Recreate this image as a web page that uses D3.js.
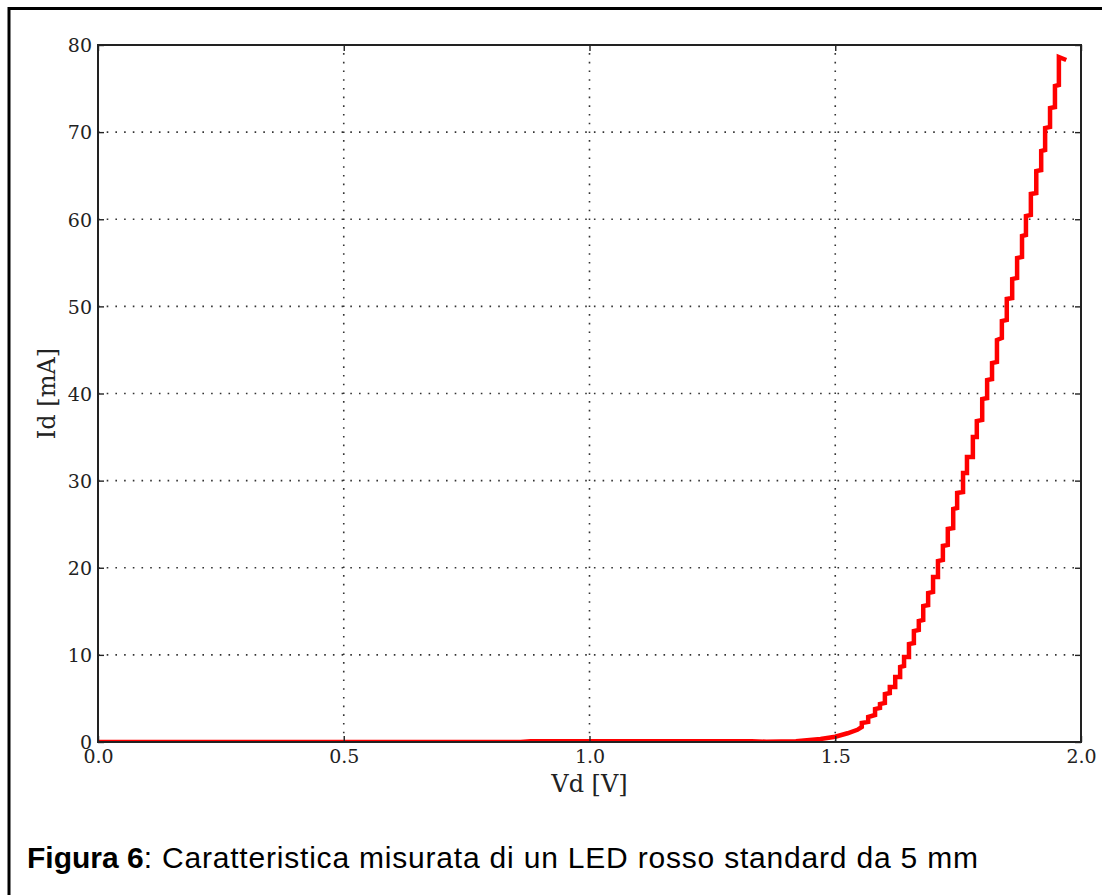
<!DOCTYPE html>
<html>
<head>
<meta charset="utf-8">
<script src="https://cdn.jsdelivr.net/npm/d3@7"></script>
<style>
    body { margin: 0; background: #fff; }
</style>
</head>
<body>
<div id="led_chart"></div>
<script>
// Axis ticks
const xTicks = [0.0, 0.5, 1.0, 1.5, 2.0];
const yTicks = [0, 10, 20, 30, 40, 50, 60, 70, 80];

// Almost flat part of the curve, below the knee
const lowVd = [0.0, 0.86, 0.88, 1.33, 1.36, 1.42, 1.47, 1.5, 1.525, 1.545];
const lowId = [0.0, 0.0, 0.1, 0.1, 0.03, 0.1, 0.35, 0.6, 1.0, 1.4];

// Quantized voltage levels: at each level the current rises from low to high
const stepVd = [
    1.554, 1.567, 1.581, 1.591, 1.601, 1.611, 1.622, 1.632, 1.64, 1.65,
    1.66, 1.67, 1.679, 1.689, 1.699, 1.709, 1.719, 1.729, 1.74, 1.748,
    1.76, 1.768, 1.78, 1.788, 1.799, 1.809, 1.819, 1.829, 1.839, 1.849,
    1.86, 1.87, 1.88, 1.888, 1.898, 1.909, 1.919, 1.927, 1.937, 1.947,
    1.955,
];
const stepIdLow = [
    1.72, 2.3, 3.1, 3.9, 4.48, 5.62, 6.31, 7.46, 8.72, 9.76,
    11.36, 12.86, 14.0, 15.72, 17.22, 18.94, 20.89, 22.61, 24.56, 26.86,
    28.69, 30.88, 32.71, 35.01, 36.96, 39.48, 41.66, 43.62, 46.37, 48.44,
    50.96, 53.26, 55.67, 58.19, 60.49, 63.01, 65.65, 67.95, 70.59, 72.88,
    75.41,
];
const stepIdHigh = [
    2.18, 2.87, 3.79, 4.36, 5.51, 6.31, 7.46, 8.61, 9.76, 11.25,
    12.74, 13.89, 15.61, 17.1, 18.94, 20.77, 22.5, 24.45, 26.74, 28.58,
    30.88, 32.71, 35.01, 36.84, 39.37, 41.55, 43.5, 46.14, 48.32, 50.85,
    53.14, 55.55, 58.08, 60.37, 62.9, 65.54, 67.83, 70.47, 72.77, 75.29,
    78.62,
];
const lastPoint = { vd: 1.97, id: 78.28 };

const xLabel = "Vd [V]";
const yLabel = "Id [mA]";
const captionBold = "Figura 6";
const captionText = ": Caratteristica misurata di un LED rosso standard da 5 mm";

function buildPoints() {
    const pts = lowVd.map((v, i) => ({ vd: v, id: lowId[i] }));
    stepVd.forEach((v, i) => {
        pts.push({ vd: v, id: stepIdLow[i] });
        pts.push({ vd: v, id: stepIdHigh[i] });
    });
    pts.push(lastPoint);
    return pts;
}

const plot = { left: 98, top: 45, right: 1081, bottom: 742 };

const svg = d3
    .select("#led_chart")
    .append("svg")
    .attr("width", 1102)
    .attr("height", 895);

svg.append("rect").attr("width", 1102).attr("height", 895).attr("fill", "#fff");

// Outer figure frame (only top and left edges fall inside the picture)
svg.append("path")
    .attr("d", "M9,895 L9,8.5 L1102,8.5")
    .attr("fill", "none")
    .attr("stroke", "#000")
    .attr("stroke-width", 3);

const xScale = d3.scaleLinear().domain([0, 2]).range([plot.left, plot.right]);
const yScale = d3.scaleLinear().domain([0, 80]).range([plot.bottom, plot.top]);

// Dotted grid
const grid = svg.append("g").attr("stroke", "#333").attr("stroke-width", 1.6)
    .attr("stroke-dasharray", "1.6,7.1");
grid.selectAll(".vgrid")
    .data(xTicks.slice(1, -1))
    .join("line")
    .attr("x1", (d) => xScale(d))
    .attr("x2", (d) => xScale(d))
    .attr("y1", plot.bottom)
    .attr("y2", plot.top);
grid.selectAll(".hgrid")
    .data(yTicks.slice(1, -1))
    .join("line")
    .attr("x1", plot.left)
    .attr("x2", plot.right)
    .attr("y1", (d) => yScale(d))
    .attr("y2", (d) => yScale(d));

// Curve, clipped to the axes box
svg.append("clipPath")
    .attr("id", "plotClip")
    .append("rect")
    .attr("x", plot.left)
    .attr("y", plot.top)
    .attr("width", plot.right - plot.left)
    .attr("height", plot.bottom - plot.top);

const line = d3.line().x((d) => xScale(d.vd)).y((d) => yScale(d.id));
svg.append("path")
    .datum(buildPoints())
    .attr("clip-path", "url(#plotClip)")
    .attr("d", line)
    .attr("fill", "none")
    .attr("stroke", "#ff0000")
    .attr("stroke-width", 4.5)
    .attr("stroke-linejoin", "miter");

// Axes (ticks inward on all four sides, like the original)
const tickFont = "'DejaVu Serif', serif";
const xAxisBottom = svg.append("g")
    .attr("transform", `translate(0, ${plot.bottom})`)
    .call(d3.axisBottom(xScale).tickValues(xTicks).tickFormat(d3.format(".1f"))
        .tickSizeInner(-6).tickSizeOuter(0).tickPadding(8));
const yAxisLeft = svg.append("g")
    .attr("transform", `translate(${plot.left}, 0)`)
    .call(d3.axisLeft(yScale).tickValues(yTicks).tickFormat(d3.format("d"))
        .tickSizeInner(-6).tickSizeOuter(0).tickPadding(6));
svg.append("g")
    .attr("transform", `translate(0, ${plot.top})`)
    .call(d3.axisTop(xScale).tickValues(xTicks).tickFormat("")
        .tickSizeInner(-6).tickSizeOuter(0));
svg.append("g")
    .attr("transform", `translate(${plot.right}, 0)`)
    .call(d3.axisRight(yScale).tickValues(yTicks).tickFormat("")
        .tickSizeInner(-6).tickSizeOuter(0));

svg.selectAll(".domain").remove();
svg.selectAll(".tick line").attr("stroke", "#222").attr("stroke-width", 1.4);
svg.selectAll(".tick text")
    .style("font-family", tickFont)
    .style("font-size", "19px")
    .attr("fill", "#222");
xAxisBottom.selectAll(".tick text").attr("dy", "0.71em");
yAxisLeft.selectAll(".tick text").attr("dy", "0.36em");

// Axes box
svg.append("rect")
    .attr("x", plot.left)
    .attr("y", plot.top)
    .attr("width", plot.right - plot.left)
    .attr("height", plot.bottom - plot.top)
    .attr("fill", "none")
    .attr("stroke", "#222")
    .attr("stroke-width", 2);

// Axis labels
svg.append("text")
    .attr("x", (plot.left + plot.right) / 2)
    .attr("y", 792)
    .attr("text-anchor", "middle")
    .style("font-family", tickFont)
    .style("font-size", "24px")
    .attr("fill", "#222")
    .text(xLabel);

svg.append("text")
    .attr("transform", `translate(55, ${(plot.top + plot.bottom) / 2}) rotate(-90)`)
    .attr("text-anchor", "middle")
    .style("font-family", tickFont)
    .style("font-size", "24px")
    .attr("fill", "#222")
    .text(yLabel);

// Caption
const caption = svg.append("text")
    .attr("x", 27)
    .attr("y", 868)
    .style("font-family", "'Liberation Sans', Arial, sans-serif")
    .style("font-size", "30px")
    .attr("fill", "#000");
caption.append("tspan").style("font-weight", "bold").text(captionBold);
caption.append("tspan").style("letter-spacing", "0.8px").text(captionText);
</script>
</body>
</html>
